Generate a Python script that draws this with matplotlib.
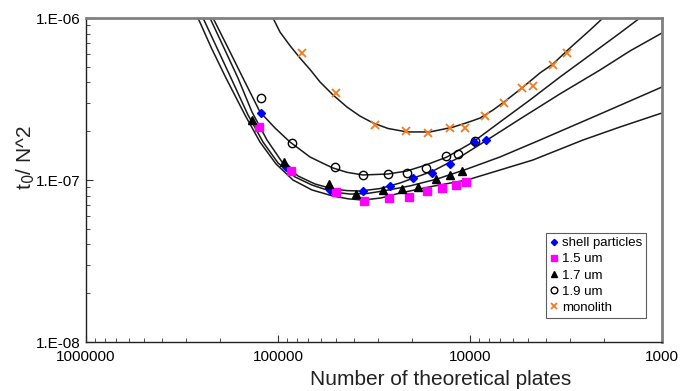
import math
import matplotlib.pyplot as plt
from matplotlib.ticker import FixedLocator, FuncFormatter, NullFormatter

plt.rcParams['font.family'] = ['Liberation Sans', 'DejaVu Sans']

# measured points
shell_N = [122600, 90850, 53610, 36080, 26110, 19810, 15780, 12710, 9530, 8250]
shell_t = [2.59e-7, 1.20e-7, 8.68e-8, 8.55e-8, 9.18e-8, 1.03e-7, 1.105e-7, 1.256e-7, 1.716e-7, 1.765e-7]

um15_N = [125700, 85560, 49880, 35650, 26420, 20790, 16760, 13990, 11830, 10490]
um15_t = [2.12e-7, 1.137e-7, 8.43e-8, 7.42e-8, 7.74e-8, 7.85e-8, 8.55e-8, 8.93e-8, 9.31e-8, 9.72e-8]

um17_N = [136600, 93100, 54260, 39260, 28390, 22610, 18660, 15030, 12710, 11010]
um17_t = [2.35e-7, 1.29e-7, 9.45e-8, 8.19e-8, 8.68e-8, 8.80e-8, 9.05e-8, 1.01e-7, 1.07e-7, 1.14e-7]

um19_N = [122600, 84540, 50480, 36080, 26740, 21290, 16960, 13340, 11550, 9420]
um19_t = [3.21e-7, 1.69e-7, 1.20e-7, 1.07e-7, 1.09e-7, 1.105e-7, 1.19e-7, 1.41e-7, 1.45e-7, 1.74e-7]

mono_N = [75000, 49880, 31260, 21540, 16550, 12710, 10620, 8350, 6650, 5360, 4700, 3700, 3125]
mono_t = [6.08e-7, 3.44e-7, 2.185e-7, 2.007e-7, 1.95e-7, 2.095e-7, 2.095e-7, 2.48e-7, 2.99e-7, 3.70e-7, 3.80e-7, 5.13e-7, 6.08e-7]

# fitted curves
fit_mono_N = [106200, 97630, 86600, 76800, 67500, 60430, 51700, 43710, 37400, 32000, 26740, 21290, 16160,
              12260, 10360, 8870, 7600, 6650, 5360, 4320, 3700, 3015, 2370, 2030]
fit_mono_t = [1e-6, 8.19e-7, 6.75e-7, 5.66e-7, 4.75e-7, 4.03e-7, 3.35e-7, 2.82e-7, 2.48e-7, 2.25e-7, 2.08e-7, 1.98e-7,
              1.98e-7, 2.12e-7, 2.26e-7, 2.41e-7, 2.70e-7, 3.03e-7, 3.70e-7, 4.58e-7, 5.20e-7, 6.53e-7, 8.43e-7, 1e-6]

fit_19_N = [218000, 182000, 152200, 124100, 103700, 86600, 68130, 58500, 51700, 43700, 36080, 26740, 21290,
            16960, 13180, 9640, 6980, 4870, 3400, 2370, 1655, 1303]
fit_19_t = [1e-6, 6.53e-7, 4.26e-7, 2.63e-7, 2.095e-7, 1.716e-7, 1.387e-7, 1.27e-7, 1.186e-7, 1.115e-7, 1.074e-7,
            1.089e-7, 1.137e-7, 1.238e-7, 1.387e-7, 1.716e-7, 2.28e-7, 3.12e-7, 4.32e-7, 5.91e-7, 8.08e-7, 1e-6]

fit_shell_N = [226100, 191100, 161600, 136600, 114100, 95330, 78640, 64190, 51700, 43700, 37400, 29500, 23150,
               15590, 11270, 8150, 5490, 3400, 2100, 1468, 1000]
fit_shell_t = [1e-6, 6.53e-7, 4.26e-7, 2.63e-7, 1.765e-7, 1.292e-7, 1.059e-7, 9.45e-8, 8.80e-8, 8.60e-8, 8.55e-8,
               8.85e-8, 9.58e-8, 1.137e-7, 1.387e-7, 1.765e-7, 2.38e-7, 3.40e-7, 4.78e-7, 6.26e-7, 8.08e-7]

fit_17_N = [245700, 207800, 175700, 143300, 119700, 100000, 81520, 66530, 51700, 42170, 34500, 28390, 20500,
            14860, 10360, 6980, 4320, 2100, 1000]
fit_17_t = [1e-6, 6.53e-7, 4.26e-7, 2.52e-7, 1.716e-7, 1.274e-7, 1.044e-7, 9.31e-8, 8.43e-8, 8.19e-8, 8.25e-8,
            8.55e-8, 9.20e-8, 1.014e-7, 1.169e-7, 1.387e-7, 1.765e-7, 2.555e-7, 3.75e-7]

fit_15_N = [261000, 222300, 186600, 148600, 124100, 102400, 83560, 66530, 51700, 43000, 36080, 29000, 23150,
            16000, 10360, 4700, 2580, 1655, 1000]
fit_15_t = [1e-6, 6.53e-7, 4.26e-7, 2.52e-7, 1.716e-7, 1.256e-7, 1.0e-7, 8.68e-8, 7.96e-8, 7.65e-8, 7.52e-8,
            7.75e-8, 8.31e-8, 9.10e-8, 1.0e-7, 1.329e-7, 1.765e-7, 2.124e-7, 2.593e-7]

fig = plt.figure(figsize=(6.89, 3.91), dpi=100)
ax = fig.add_axes([86 / 689, 1 - 342 / 391, 576 / 689, 324 / 391])

for xs, ys in [(fit_mono_N, fit_mono_t), (fit_19_N, fit_19_t), (fit_shell_N, fit_shell_t),
               (fit_17_N, fit_17_t), (fit_15_N, fit_15_t)]:
    ax.plot(xs, ys, color='#1a1a1a', lw=1.1, zorder=2, solid_joinstyle='round')

ax.plot(shell_N, shell_t, ls='none', marker='D', ms=4, color='#0000ff', label='shell particles', zorder=3)
ax.plot(um15_N, um15_t, ls='none', marker='s', ms=6, color='#ff00ff', label='1.5 um', zorder=3)
ax.plot(um17_N, um17_t, ls='none', marker='^', ms=6, color='black', label='1.7 um', zorder=3)
ax.plot(um19_N, um19_t, ls='none', marker='o', ms=6, mfc='none', mec='black', mew=1, label='1.9 um', zorder=3)
ax.plot(mono_N, mono_t, ls='none', marker='x', ms=6, mew=1.3, color='#f47a20', label='monolith', zorder=3)

ax.set_xscale('log')
ax.set_yscale('log')
ax.set_xlim(1e6, 1e3)
ax.set_ylim(1e-8, 1e-6)

ax.xaxis.set_major_locator(FixedLocator([1e6, 1e5, 1e4, 1e3]))
ax.xaxis.set_major_formatter(FuncFormatter(lambda v, p: '%d' % round(v)))
ax.xaxis.set_minor_formatter(NullFormatter())
ax.yaxis.set_major_locator(FixedLocator([1e-8, 1e-7, 1e-6]))
ax.yaxis.set_major_formatter(FuncFormatter(lambda v, p: '1.E-%02d' % round(-math.log10(v))))
ax.yaxis.set_minor_formatter(NullFormatter())

ax.tick_params(which='both', direction='in', top=False, right=False, labelsize=11, color='#333333')
ax.tick_params(which='major', length=5)
ax.tick_params(which='minor', length=3)
ax.tick_params(axis='x', which='major', pad=6)
ax.tick_params(axis='y', which='major', pad=4)

for s in ['top', 'right']:
    ax.spines[s].set_color('#808080')
    ax.spines[s].set_linewidth(2)
for s in ['left', 'bottom']:
    ax.spines[s].set_color('#222222')
    ax.spines[s].set_linewidth(1)

ax.set_xlabel('Number of theoretical plates', fontsize=15, color='#222222')
ax.xaxis.set_label_coords(0.616, -0.085)
ax.set_ylabel('t$_0$/ N^2', fontsize=15, color='#222222')
ax.yaxis.set_label_coords(-0.085, 0.57)

leg = ax.legend(loc='lower right', bbox_to_anchor=(0.972, 0.074), borderaxespad=0,
                fontsize=9.5, frameon=True, fancybox=False, handlelength=0.6,
                handletextpad=0.3, labelspacing=0.3, borderpad=0.3, markerscale=0.8)
leg.get_frame().set_edgecolor('#333333')
leg.get_frame().set_linewidth(0.8)

fig.savefig('out.png', dpi=100)
